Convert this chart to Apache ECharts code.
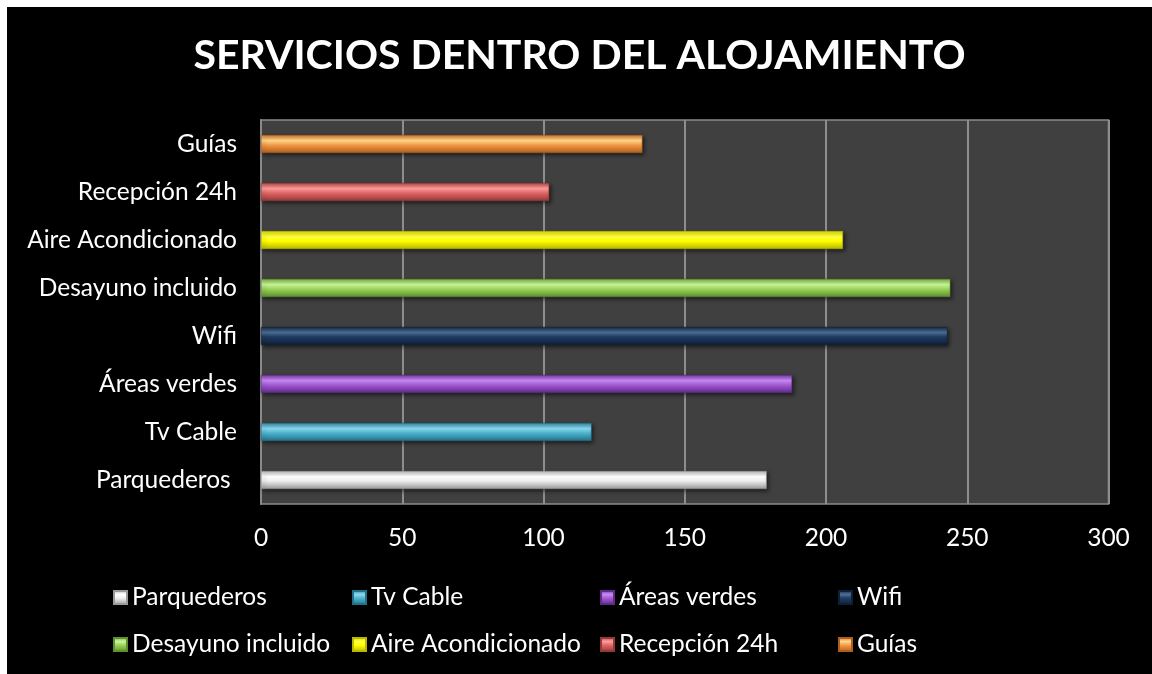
<!DOCTYPE html>
<html>
<head>
<meta charset="utf-8">
<script src="https://cdn.jsdelivr.net/npm/echarts@6/dist/echarts.min.js"></script>
<style>
html,body{margin:0;padding:0;background:#ffffff;}
#chart{position:absolute;left:7px;top:7px;width:1145px;height:667px;background:#000;}
</style>
</head>
<body>
<div id="chart"></div>
<script>
const titleText = 'SERVICIOS DENTRO DEL ALOJAMIENTO';
const categories = ['Parquederos ', 'Tv Cable', 'Áreas verdes', 'Wifi', 'Desayuno incluido', 'Aire Acondicionado', 'Recepción 24h', 'Guías'];
const seriesNames = ['Parquederos', 'Tv Cable', 'Áreas verdes', 'Wifi', 'Desayuno incluido', 'Aire Acondicionado', 'Recepción 24h', 'Guías'];
const values = [179, 117, 188, 243, 244, 206, 102, 135];
const xTicks = [0, 50, 100, 150, 200, 250, 300];

// [edge dark, highlight, mid, bottom dark]
const palettes = [
  ['#b8b8b8', '#ffffff', '#eeeeee', '#9a9a9a'],
  ['#2f8aa3', '#8ad8ee', '#4fb4cf', '#23708a'],
  ['#7a3aa8', '#c68af2', '#a45ad6', '#5f2a88'],
  ['#142a48', '#4d6d94', '#1f3a60', '#0e2038'],
  ['#77b03c', '#c9f59a', '#9bd45a', '#5e9030'],
  ['#d8d800', '#ffff40', '#ffff00', '#b8b800'],
  ['#b84848', '#ff9c9c', '#e06666', '#963838'],
  ['#d07428', '#ffd88a', '#f49a48', '#b05e1c']
];

function grad(p) {
  return new echarts.graphic.LinearGradient(0, 0, 0, 1, [
    {offset: 0, color: p[0]},
    {offset: 0.3, color: p[1]},
    {offset: 0.55, color: p[2]},
    {offset: 1, color: p[3]}
  ]);
}

const font = 'Lato, "Open Sans", sans-serif';
const fs = 24.5;

const series = seriesNames.map((name, i) => ({
  name: name,
  type: 'bar',
  stack: 'all',
  barWidth: 18,
  data: categories.map((c, j) => (j === i ? values[i] : '-')),
  itemStyle: {
    color: grad(palettes[i]),
    borderColor: palettes[i][3],
    borderWidth: 0.5,
    shadowBlur: 4,
    shadowOffsetX: 2,
    shadowOffsetY: 2,
    shadowColor: 'rgba(0,0,0,0.55)'
  },
  emphasis: {disabled: true}
}));

const legendLefts = [106, 345, 593, 831];
const legendTops = [578, 625];
const legends = seriesNames.map((name, i) => ({
  data: [name],
  left: legendLefts[i % 4],
  top: legendTops[Math.floor(i / 4)],
  itemWidth: 13,
  itemHeight: 13,
  icon: 'rect',
  padding: 0,
  itemGap: 0,
  textStyle: {color: '#ffffff', fontSize: fs, fontFamily: font, padding: [0, 0, 0, 0]},
  selectedMode: false
}));

const chart = echarts.init(document.getElementById('chart'));
chart.setOption({
  backgroundColor: '#000000',
  animation: false,
  title: {
    text: titleText,
    left: 'center',
    top: 28,
    padding: [0, 0, 0, 6],
    textStyle: {color: '#ffffff', fontSize: 41, fontWeight: 'bold', fontFamily: font}
  },
  legend: legends,
  grid: {left: 254, right: 43.5, top: 113, bottom: 170, backgroundColor: '#404040', show: true, borderColor: '#8a8a8a', borderWidth: 1.5},
  xAxis: {
    type: 'value',
    min: xTicks[0],
    max: xTicks[xTicks.length - 1],
    interval: xTicks[1] - xTicks[0],
    axisLine: {show: false},
    axisTick: {show: false},
    axisLabel: {color: '#ffffff', fontSize: fs, fontFamily: font, margin: 22},
    splitLine: {show: true, lineStyle: {color: '#8e8e8e', width: 2}}
  },
  yAxis: {
    type: 'category',
    data: categories,
    axisLine: {show: true, lineStyle: {color: '#8a8a8a', width: 2}},
    axisTick: {show: false},
    axisLabel: {color: '#ffffff', fontSize: fs, fontFamily: font, margin: 24},
    splitLine: {show: false}
  },
  series: series
});
</script>
</body>
</html>
